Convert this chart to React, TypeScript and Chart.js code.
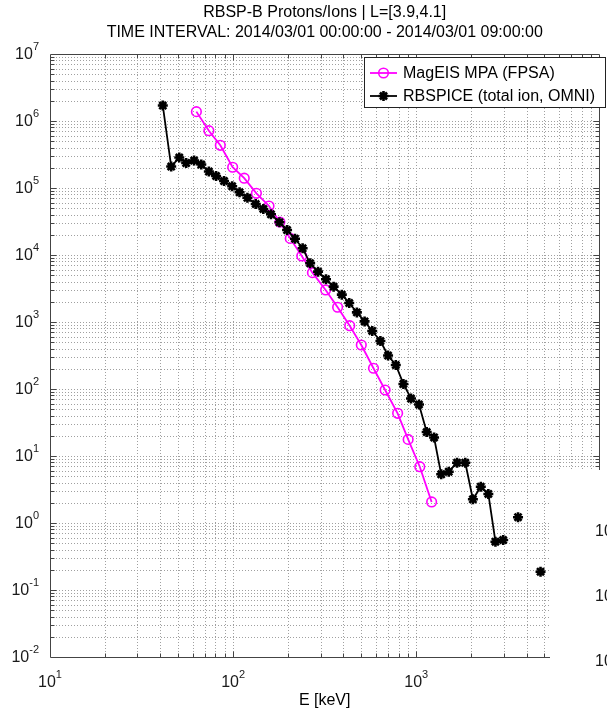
import { useEffect, useRef } from 'react';
import { Chart, registerables } from 'chart.js';

Chart.register(...registerables);

// ---- text ----
const TITLE_LINES = [
  'RBSP-B Protons/Ions | L=[3.9,4.1]',
  'TIME INTERVAL: 2014/03/01 00:00:00 - 2014/03/01 09:00:00',
];
const X_LABEL = 'E [keV]';
const MAGEIS_LABEL = 'MagEIS MPA (FPSA)';
const RBSPICE_LABEL = 'RBSPICE (total ion, OMNI)';
const X_DECADES = [1, 2, 3];
const Y_DECADES = [7, 6, 5, 4, 3, 2, 1, 0, -1, -2];
const SIDE_PANEL_LABELS = ['10', '10', '10'];

// ---- axis ranges ----
const X_MIN = 10;
const X_MAX = 10000;
const Y_MIN = 0.01;
const Y_MAX = 1e7;

// ---- MagEIS MPA (FPSA) ----
const mageisEnergy = [63.0, 73.7, 85.1, 99.4, 115, 134, 157, 180, 205, 237, 271, 320, 372, 433, 501, 584, 676, 791, 903, 1045, 1213];
const mageisFlux = [1.38e6, 7.16e5, 4.34e5, 2.04e5, 1.4e5, 8.34e4, 5.39e4, 3.11e4, 1.77e4, 9.66e3, 5.45e3, 3.01e3, 1.66e3, 881, 454, 204, 96.6, 43.4, 17.7, 6.92, 2.06];

// ---- RBSPICE (total ion, OMNI) ----
const rbspiceEnergy = [41.3, 45.9, 50.8, 55.4, 61.2, 67.0, 73.7, 80.7, 89.2, 98.8, 108.4, 119.7, 132.8, 146.2, 160.9, 179, 197, 217.7, 239.6, 263.3, 290.9, 321.4, 353.8, 392.2, 430.5, 473.9, 522.2, 574.8, 637, 701.5, 773, 850.7, 936, 1035, 1140, 1251, 1368, 1504, 1670, 1852, 2038, 2251, 2475, 2706, 2983, 3281, 3595, 3957, 4371, 4770];
const rbspiceFlux: (number | null)[] = [1.7e6, 2.09e5, 2.85e5, 2.36e5, 2.57e5, 2.24e5, 1.76e5, 1.51e5, 1.27e5, 1.06e5, 8.63e4, 7.14e4, 5.77e4, 4.86e4, 4.05e4, 3.08e4, 2.36e4, 1.75e4, 1.26e4, 7.52e3, 5.64e3, 4.34e3, 3.37e3, 2.56e3, 1.92e3, 1.39e3, 1.02e3, 735, 520, 316, 228, 119, 72.1, 58.7, 22.8, 18.9, 5.33, 5.83, 7.94, 7.94, 2.26, 3.48, 2.71, 0.526, 0.557, null, 1.22, null, null, 0.1875];

const FONT = '"Liberation Sans", Arial, Helvetica, sans-serif';
const MAGENTA = '#ff00ff';
const GRID = '#a0a0a0';
const AXIS = '#444444';
const TEXT = '#1a1a1a';

function logSteps(min: number, max: number) {
  const out: { v: number; major: boolean }[] = [];
  for (let e = Math.floor(Math.log10(min)); e <= Math.ceil(Math.log10(max)); e++) {
    for (let m = 1; m <= 9; m++) {
      const v = Number((m * Math.pow(10, e)).toPrecision(6));
      if (v > min && v < max) out.push({ v, major: m === 1 });
    }
  }
  return out;
}

function drawPower(ctx: CanvasRenderingContext2D, exp: string, x: number, y: number, align: 'right' | 'center') {
  ctx.font = `16px ${FONT}`;
  const wb = ctx.measureText('10').width;
  ctx.font = `11px ${FONT}`;
  const we = ctx.measureText(exp).width;
  const total = wb + we;
  const left = align === 'right' ? x - total : x - total / 2;
  ctx.textAlign = 'left';
  ctx.textBaseline = 'middle';
  ctx.font = `16px ${FONT}`;
  ctx.fillText('10', left, y);
  ctx.font = `11px ${FONT}`;
  ctx.fillText(exp, left + wb, y - 8);
}

function drawStar(ctx: CanvasRenderingContext2D, cx: number, cy: number, r: number) {
  ctx.beginPath();
  for (let k = 0; k < 4; k++) {
    const a = (k * Math.PI) / 4;
    ctx.moveTo(cx - r * Math.cos(a), cy - r * Math.sin(a));
    ctx.lineTo(cx + r * Math.cos(a), cy + r * Math.sin(a));
  }
  ctx.stroke();
}

const framePlugin = {
  id: 'frame',
  beforeDatasetsDraw(chart: any) {
    const { ctx, chartArea: a, scales } = chart;
    const xs = scales.x;
    const ys = scales.y;
    ctx.save();
    ctx.strokeStyle = GRID;
    ctx.lineWidth = 1;
    ctx.setLineDash([1, 2]);
    ctx.beginPath();
    for (const { v } of logSteps(X_MIN, X_MAX)) {
      const px = Math.round(xs.getPixelForValue(v)) + 0.5;
      ctx.moveTo(px, a.top);
      ctx.lineTo(px, a.bottom);
    }
    for (const { v } of logSteps(Y_MIN, Y_MAX)) {
      const py = Math.round(ys.getPixelForValue(v)) + 0.5;
      ctx.moveTo(a.left, py);
      ctx.lineTo(a.right, py);
    }
    ctx.stroke();
    ctx.restore();
  },
  afterDatasetsDraw(chart: any) {
    const { ctx, chartArea: a, scales } = chart;
    const xs = scales.x;
    const ys = scales.y;
    const L = Math.round(a.left) + 0.5;
    const R = Math.round(a.right) + 0.5;
    const T = Math.round(a.top) + 0.5;
    const B = Math.round(a.bottom) + 0.5;
    ctx.save();

    // axes box and inward ticks
    ctx.strokeStyle = AXIS;
    ctx.lineWidth = 1;
    ctx.beginPath();
    ctx.rect(L, T, R - L, B - T);
    for (const { v, major } of logSteps(X_MIN, X_MAX)) {
      const px = Math.round(xs.getPixelForValue(v)) + 0.5;
      const len = major ? 6 : 4;
      ctx.moveTo(px, B);
      ctx.lineTo(px, B - len);
      ctx.moveTo(px, T);
      ctx.lineTo(px, T + len);
    }
    for (const { v, major } of logSteps(Y_MIN, Y_MAX)) {
      const py = Math.round(ys.getPixelForValue(v)) + 0.5;
      const len = major ? 6 : 4;
      ctx.moveTo(L, py);
      ctx.lineTo(L + len, py);
      ctx.moveTo(R, py);
      ctx.lineTo(R - len, py);
    }
    ctx.stroke();

    // tick labels
    ctx.fillStyle = TEXT;
    for (const e of Y_DECADES) {
      const py = ys.getPixelForValue(Math.pow(10, e));
      drawPower(ctx, String(e), 39, py + 1, 'right');
    }
    for (const e of X_DECADES) {
      const px = xs.getPixelForValue(Math.pow(10, e));
      drawPower(ctx, String(e), px, 683, 'center');
    }

    // title and axis label
    const cx = (a.left + a.right) / 2;
    ctx.fillStyle = '#000';
    ctx.textAlign = 'center';
    ctx.textBaseline = 'middle';
    ctx.font = `16px ${FONT}`;
    ctx.fillText(TITLE_LINES[0], cx, 13);
    ctx.fillText(TITLE_LINES[1], cx, 33);
    ctx.fillText(X_LABEL, cx, 701);

    // neighbouring panel edge
    ctx.fillStyle = '#ffffff';
    ctx.fillRect(550, 470, 57, 246);
    ctx.fillStyle = TEXT;
    ctx.textAlign = 'left';
    ctx.font = `16px ${FONT}`;
    [532, 597, 662].forEach((py, i) => ctx.fillText(SIDE_PANEL_LABELS[i], 595, py));

    // legend
    const bx = 364.5;
    const by = 57.5;
    ctx.fillStyle = '#ffffff';
    ctx.fillRect(bx, by, 241, 50);
    ctx.strokeStyle = '#222';
    ctx.lineWidth = 1;
    ctx.strokeRect(bx, by, 241, 50);
    const rows = [
      { label: MAGEIS_LABEL, y: 73, color: MAGENTA, star: false },
      { label: RBSPICE_LABEL, y: 96, color: '#000', star: true },
    ];
    for (const r of rows) {
      ctx.strokeStyle = r.color;
      ctx.lineWidth = 1.8;
      ctx.beginPath();
      ctx.moveTo(370, r.y);
      ctx.lineTo(397, r.y);
      ctx.stroke();
      if (r.star) {
        ctx.lineWidth = 2.6;
        drawStar(ctx, 383.5, r.y, 5);
      } else {
        ctx.lineWidth = 1.6;
        ctx.beginPath();
        ctx.arc(383.5, r.y, 4.8, 0, Math.PI * 2);
        ctx.stroke();
      }
      ctx.fillStyle = '#000';
      ctx.textAlign = 'left';
      ctx.textBaseline = 'middle';
      ctx.font = `16px ${FONT}`;
      ctx.fillText(r.label, 403, r.y + 1);
    }
    ctx.restore();
  },
};

export default function App() {
  const canvasRef = useRef<HTMLCanvasElement | null>(null);

  useEffect(() => {
    const canvas = canvasRef.current;
    if (!canvas) return;
    const chart = new Chart(canvas, {
      type: 'line',
      data: {
        datasets: [
          {
            label: RBSPICE_LABEL,
            data: rbspiceEnergy.map((e, i) => ({ x: e, y: rbspiceFlux[i] })),
            borderColor: '#000',
            backgroundColor: '#000',
            borderWidth: 1.8,
            pointStyle: 'star',
            pointRadius: 5,
            pointBorderWidth: 2.6,
            pointBorderColor: '#000',
            spanGaps: false,
            order: 0,
          },
          {
            label: MAGEIS_LABEL,
            data: mageisEnergy.map((e, i) => ({ x: e, y: mageisFlux[i] })),
            borderColor: MAGENTA,
            backgroundColor: 'rgba(0,0,0,0)',
            borderWidth: 1.8,
            pointStyle: 'circle',
            pointRadius: 4.8,
            pointBorderWidth: 1.6,
            pointBorderColor: MAGENTA,
            pointBackgroundColor: 'rgba(0,0,0,0)',
            order: 1,
          },
        ],
      },
      options: {
        responsive: false,
        animation: false,
        devicePixelRatio: 1,
        layout: { padding: { left: 50, right: 2, top: 54, bottom: 59 } },
        scales: {
          x: { type: 'logarithmic', min: X_MIN, max: X_MAX, display: false },
          y: { type: 'logarithmic', min: Y_MIN, max: Y_MAX, display: false },
        },
        plugins: {
          legend: { display: false },
          tooltip: { enabled: false },
          title: { display: false },
        },
        events: [],
      },
      plugins: [framePlugin],
    });
    return () => chart.destroy();
  }, []);

  return (
    <div style={{ position: 'fixed', left: 0, top: 0, width: 607, height: 716, background: '#fff' }}>
      <canvas ref={canvasRef} width={607} height={716} />
    </div>
  );
}
